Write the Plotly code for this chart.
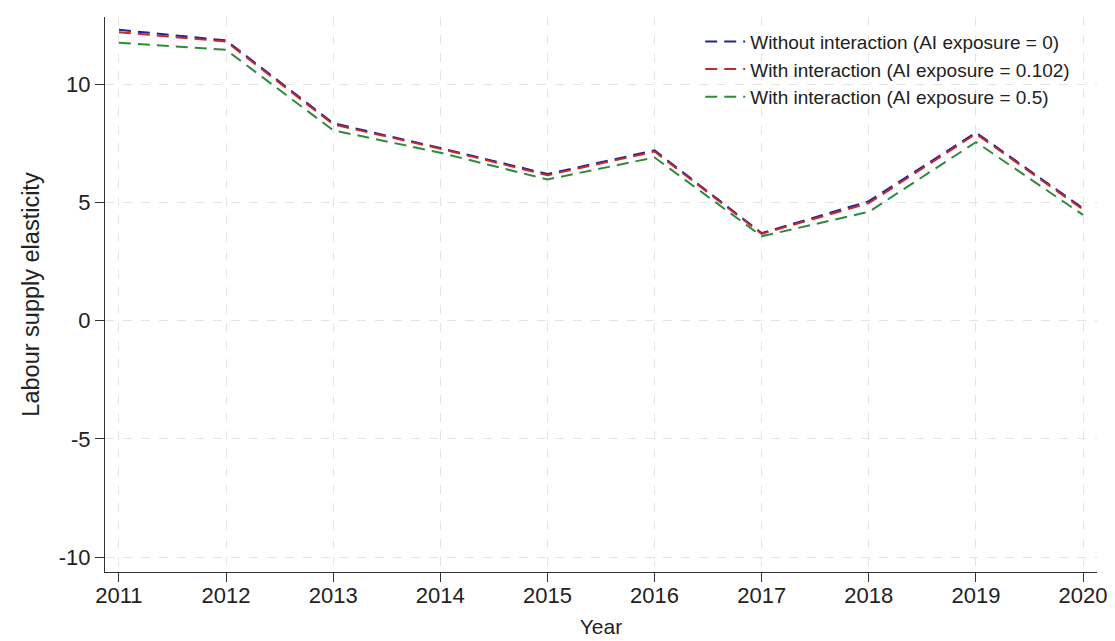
import plotly.graph_objects as go

# Labour supply elasticity by year under three AI-exposure scenarios
years = [2011, 2012, 2013, 2014, 2015, 2016, 2017, 2018, 2019, 2020]
without_interaction = [12.3, 11.85, 8.35, 7.3, 6.2, 7.2, 3.7, 5.05, 7.95, 4.75]
with_interaction_0102 = [12.2, 11.8, 8.3, 7.27, 6.15, 7.15, 3.67, 4.97, 7.9, 4.7]
with_interaction_05 = [11.75, 11.45, 8.05, 7.1, 5.97, 6.9, 3.57, 4.6, 7.55, 4.47]

series_names = [
    "Without interaction (AI exposure = 0)",
    "With interaction (AI exposure = 0.102)",
    "With interaction (AI exposure = 0.5)",
]
y_ticks = [-10, -5, 0, 5, 10]
y_tick_labels = ["-10", "-5", "0", "5", "10"]

colors = ["#23239a", "#c22a2e", "#2f8a3c"]
font_family = "Liberation Sans, Arial, sans-serif"

fig = go.Figure()
for name, vals, col in zip(series_names,
                           [without_interaction, with_interaction_0102, with_interaction_05],
                           colors):
    fig.add_trace(go.Scatter(
        x=years, y=vals, mode="lines", name=name,
        line=dict(color=col, width=2, dash="12px,7px"),
    ))

axis_common = dict(
    showline=True, linecolor="#333333", linewidth=1.2,
    ticks="outside", ticklen=9, tickcolor="#333333", tickwidth=1.2,
    showgrid=True, gridcolor="#e4e4e4", gridwidth=1, griddash="dash",
    zeroline=False, tickfont=dict(size=22, color="#222222"),
    automargin=False,
)

fig.update_layout(
    width=1115, height=641,
    margin=dict(l=105, r=18, t=17, b=69),
    paper_bgcolor="white", plot_bgcolor="white",
    font=dict(family=font_family, color="#222222"),
    xaxis=dict(
        range=[2010.87, 2020.13], tickmode="array", tickvals=years,
        ticklabelstandoff=-6,
        title=dict(text="Year", font=dict(size=21), standoff=12),
        **axis_common,
    ),
    yaxis=dict(
        range=[-10.63, 12.84], tickmode="array", tickvals=y_ticks,
        ticktext=y_tick_labels,
        title=dict(text="Labour supply elasticity", font=dict(size=23.5), standoff=12),
        **axis_common,
    ),
    legend=dict(
        x=0.600, y=0.99, xanchor="left", yanchor="top",
        bgcolor="rgba(0,0,0,0)", borderwidth=0,
        font=dict(size=19, color="#222222"),
        tracegroupgap=0, itemwidth=40,
    ),
    showlegend=True,
)

fig.write_html("out.html")
